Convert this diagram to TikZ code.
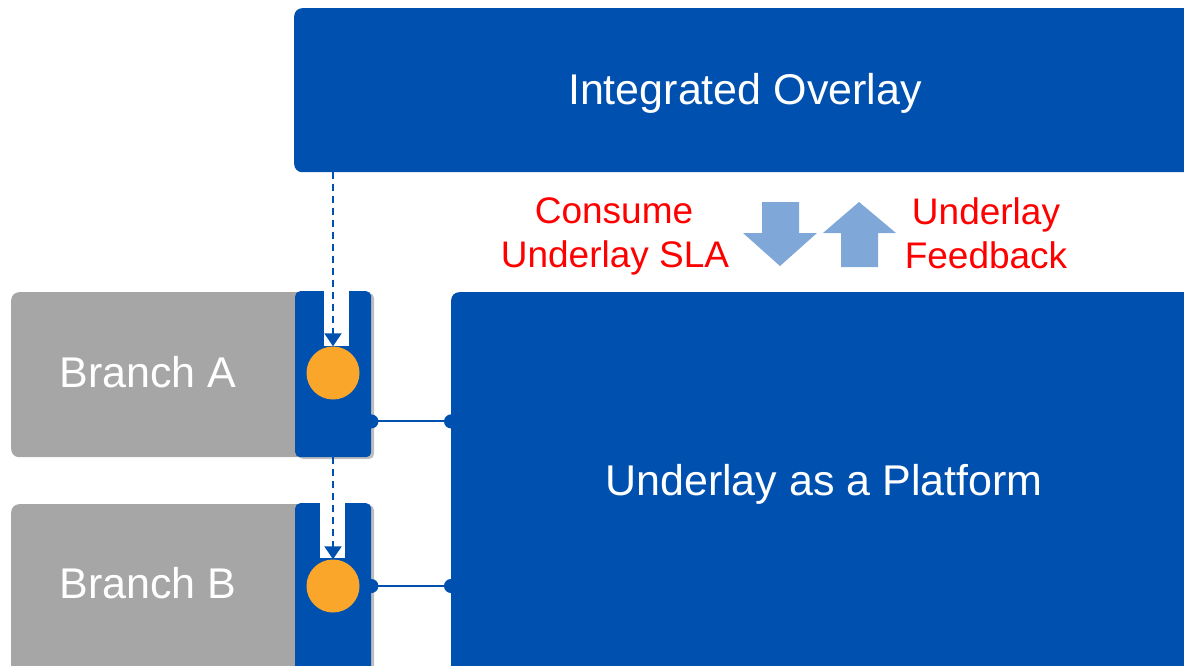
\documentclass[tikz,border=0pt]{standalone}
\usepackage{fontspec}
\setmainfont{Liberation Sans}
\usetikzlibrary{arrows.meta,calc}
\definecolor{cblue}{RGB}{0,81,175}
\definecolor{cgray}{RGB}{166,166,166}
\definecolor{cshadow}{RGB}{190,190,190}
\definecolor{corange}{RGB}{249,166,43}
\definecolor{clight}{RGB}{127,168,216}
\definecolor{cred}{RGB}{255,0,0}
\begin{document}
\begin{tikzpicture}[x=1pt,y=-1pt,
  bluebox/.style={fill=cblue,draw=none,rectangle,rounded corners=8pt,anchor=north west,inner sep=0pt},
  graybox/.style={fill=cgray,draw=none,rectangle,rounded corners=8pt,anchor=north west,inner sep=0pt},
  tabbox/.style={fill=cblue,draw=none,rectangle,rounded corners=5pt,anchor=north west,inner sep=0pt,minimum width=76pt},
  notch/.style={fill=white,draw=none,rectangle,anchor=north west,inner sep=0pt,minimum width=25pt,minimum height=55pt},
  port/.style={fill=corange,draw=none,circle,inner sep=0pt,minimum size=53pt},
  bigtext/.style={text=white,font=\fontsize{43pt}{50pt}\selectfont,anchor=base,inner sep=0pt},
  redtext/.style={text=cred,font=\fontsize{37pt}{44pt}\selectfont,anchor=base,inner sep=0pt},
  dasharrow/.style={draw=cblue,line width=2pt,dash pattern=on 7pt off 5pt,-{Triangle[width=17pt,length=13pt]}},
  link/.style={draw=cblue,line width=2pt,{Circle[length=14pt]}-{Circle[length=14pt]},shorten <=-7pt,shorten >=-7pt},
  blockarrow/.style={fill=clight,draw=none}
]
\useasboundingbox (0,0) rectangle (1184,666);
\clip (0,0) rectangle (1184,666);

% top box
\node[bluebox,minimum width=940pt,minimum height=164pt] (overlay) at (294,8) {};
\node[bigtext] (overlaytxt) at (745,105) {Integrated Overlay};

% underlay box
\node[bluebox,minimum width=760pt,minimum height=400pt] (underlay) at (451,292) {};
\node[bigtext] (underlaytxt) at (824,495) {Underlay as a Platform};

% branch A
\node[graybox,minimum width=295pt,minimum height=165pt] (branchA) at (11,292) {};
\node[bigtext] (branchAtxt) at (148,387) {Branch A};
\fill[cshadow,rounded corners=5pt] (298,293) rectangle (374,459);
\node[tabbox,minimum height=166pt] (tabA) at (295,291) {};
\node[notch] (notchA) at (324,291) {};
\node[port] (circA) at (333,373) {};

% branch B
\node[graybox,minimum width=300pt,minimum height=200pt] (branchB) at (11,504) {};
\node[bigtext] (branchBtxt) at (148,598) {Branch B};
\fill[cshadow,rounded corners=5pt] (298,505) rectangle (374,710);
\node[tabbox,minimum height=200pt] (tabB) at (295,503) {};
\node[notch] (notchB) at (320,503) {};
\node[port] (circB) at (333,586) {};

% dashed arrows
\draw[dasharrow] (overlay.south -| circA.north) -- (circA.north);
\draw[dasharrow] (tabA.south -| circB.north) -- (circB.north);

% links
\draw[link] ([yshift=36pt]tabA.south east) -- ([yshift=36pt]tabA.south east -| underlay.west);
\draw[link] (circB -| tabB.east) -- (circB -| underlay.west);

% block arrows
\fill[blockarrow] (762,202) -- (799,202) -- (799,233) -- (817,233) -- (780,266) -- (743,233) -- (762,233) -- cycle;
\fill[blockarrow] (859,202) -- (896,233) -- (878,233) -- (878,267) -- (841,267) -- (841,233) -- (823,233) -- cycle;

% red labels
\node[redtext] (consume1) at (614,223) {Consume};
\node[redtext] (consume2) at (615,267) {Underlay SLA};
\node[redtext] (feedback1) at (986,224) {Underlay};
\node[redtext] (feedback2) at (986,268) {Feedback};
\end{tikzpicture}
\end{document}
